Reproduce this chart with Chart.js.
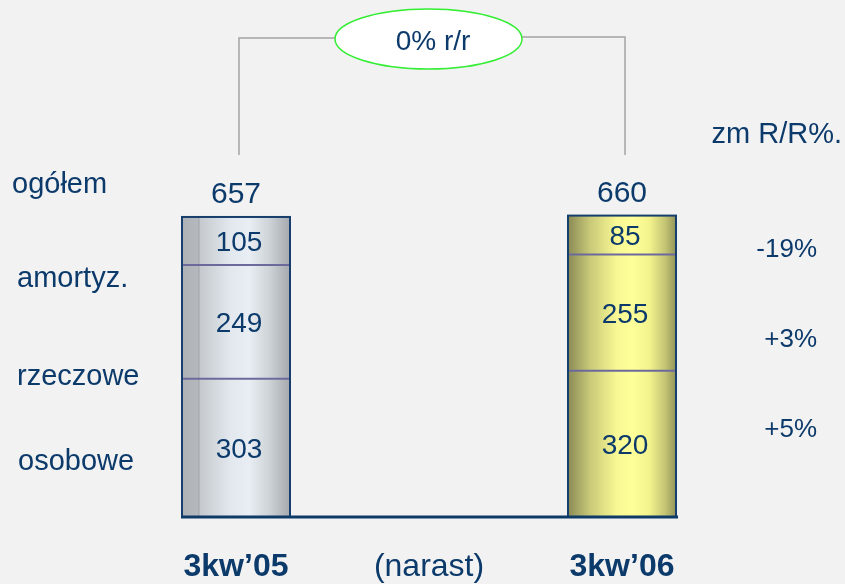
<!DOCTYPE html>
<html>
<head>
<meta charset="utf-8">
<script src="https://cdn.jsdelivr.net/npm/chart.js@4/dist/chart.umd.min.js"></script>
<style>
  html, body { margin: 0; padding: 0; background: #f2f2f2; }
</style>
</head>
<body>
<canvas id="myChart" width="845" height="584"></canvas>
<script>
// data
const categories = ['3kw\u201905', '(narast)', '3kw\u201906'];
const osobowe = [303, null, 320];
const rzeczowe = [249, null, 255];
const amortyz = [105, null, 85];
const rowLabels = ['ogółem', 'amortyz.', 'rzeczowe', 'osobowe'];
const changeTitle = 'zm R/R%.';
const changes = ['-19%', '+3%', '+5%'];
const yoyLabel = '0% r/r';

const NAVY = '#0c3a6b';
const FONT = "'Liberation Sans', Arial, sans-serif";
const BAR_W = 108;

const greyStops = [[0, '#aeb2b6'], [0.15, '#b5b9bd'], [0.155, '#9fa3a7'], [0.168, '#c6cace'],
  [0.45, '#e2e8ee'], [0.62, '#e8eef3'], [0.8, '#cfd4d8'], [1, '#a6aaae']];
const yellowStops = [[0, '#8a8a56'], [0.2, '#c8c878'], [0.45, '#f8f894'], [0.6, '#ffff99'],
  [0.75, '#f4f48e'], [0.9, '#c4c474'], [1, '#94945a']];

function barFill(ctx) {
  const chart = ctx.chart;
  const i = ctx.dataIndex;
  if (i === undefined || !chart.chartArea) return '#cccccc';
  const cx = chart.scales.x.getPixelForValue(i);
  const g = chart.ctx.createLinearGradient(cx - BAR_W / 2, 0, cx + BAR_W / 2, 0);
  (i === 0 ? greyStops : yellowStops).forEach(s => g.addColorStop(s[0], s[1]));
  return g;
}

const decor = {
  id: 'decor',
  afterDatasetsDraw(chart) {
    const c = chart.ctx;
    const y0 = chart.scales.y.getPixelForValue(0);
    const metas = [0, 1, 2].map(d => chart.getDatasetMeta(d).data);
    const sets = [osobowe, rzeczowe, amortyz];
    const bars = [];
    [0, 2].forEach(i => {
      const els = metas.map(m => m[i]);
      const x = els[0].x, w = els[0].width;
      const top = els[2].y;
      bars.push({x, w, top});
      c.save();
      // separators
      c.strokeStyle = '#6c6a9c';
      c.lineWidth = 2;
      [0, 1].forEach(d => {
        c.beginPath();
        c.moveTo(x - w / 2, els[d].y);
        c.lineTo(x + w / 2, els[d].y);
        c.stroke();
      });
      // outline
      c.strokeStyle = '#173f6e';
      c.lineWidth = 2;
      c.strokeRect(x - w / 2, top, w, y0 - top);
      // values
      c.fillStyle = NAVY;
      c.font = '28px ' + FONT;
      c.textAlign = 'center';
      c.textBaseline = 'alphabetic';
      els.forEach((el, d) => {
        c.fillText(String(sets[d][i]), x + 3, (el.y + el.base) / 2 + 10);
      });
      const total = sets.reduce((s, arr) => s + arr[i], 0);
      c.font = '30px ' + FONT;
      c.fillText(String(total), x, top - 14);
      c.restore();
    });
    // baseline
    c.save();
    c.strokeStyle = '#0e3a68';
    c.lineWidth = 3;
    c.beginPath();
    c.moveTo(bars[0].x - bars[0].w / 2 - 1, y0);
    c.lineTo(bars[1].x + bars[1].w / 2 + 2, y0);
    c.stroke();
    // bracket
    c.strokeStyle = '#a4a4a4';
    c.lineWidth = 1.5;
    c.beginPath();
    c.moveTo(bars[0].x + 3, 155); c.lineTo(bars[0].x + 3, 38); c.lineTo(336, 38);
    c.moveTo(521, 37); c.lineTo(bars[1].x + 3, 37); c.lineTo(bars[1].x + 3, 155);
    c.stroke();
    c.beginPath();
    c.ellipse(428.5, 39, 93.5, 30, 0, 0, Math.PI * 2);
    c.fillStyle = '#ffffff';
    c.fill();
    c.strokeStyle = '#33ee33';
    c.lineWidth = 1.5;
    c.stroke();
    c.fillStyle = NAVY;
    c.font = '28px ' + FONT;
    c.textAlign = 'center';
    c.fillText(yoyLabel, 433, 50);
    // row labels
    c.font = '29px ' + FONT;
    c.textAlign = 'left';
    const rowPos = [[12, 193], [17, 287], [17, 385], [18, 470]];
    rowLabels.forEach((t, k) => c.fillText(t, rowPos[k][0], rowPos[k][1]));
    // changes
    c.textAlign = 'right';
    c.fillText(changeTitle, 842, 143);
    c.font = '26px ' + FONT;
    const chY = [257, 347, 437];
    changes.forEach((t, k) => c.fillText(t, 817, chY[k]));
    c.restore();
  }
};

const ctx = document.getElementById('myChart').getContext('2d');
new Chart(ctx, {
  type: 'bar',
  data: {
    labels: categories,
    datasets: [
      { label: 'osobowe', data: osobowe },
      { label: 'rzeczowe', data: rzeczowe },
      { label: 'amortyz.', data: amortyz }
    ].map(d => Object.assign(d, {
      backgroundColor: barFill,
      borderWidth: 0,
      barThickness: BAR_W,
      clip: false
    }))
  },
  options: {
    responsive: false,
    animation: false,
    layout: { padding: { left: 236, right: 223, top: 106, bottom: 0 } },
    plugins: { legend: { display: false }, tooltip: { enabled: false } },
    scales: {
      x: {
        stacked: true,
        offset: false,
        grid: { display: false, drawTicks: false },
        border: { display: false },
        afterFit: s => { s.height = 67; },
        ticks: {
          padding: 31,
          color: NAVY,
          font: c => ({ family: FONT, size: 32, weight: c.index === 1 ? 'normal' : 'bold' })
        }
      },
      y: {
        stacked: true,
        display: false,
        min: 0,
        max: 900
      }
    }
  },
  plugins: [decor]
});
</script>
</body>
</html>
